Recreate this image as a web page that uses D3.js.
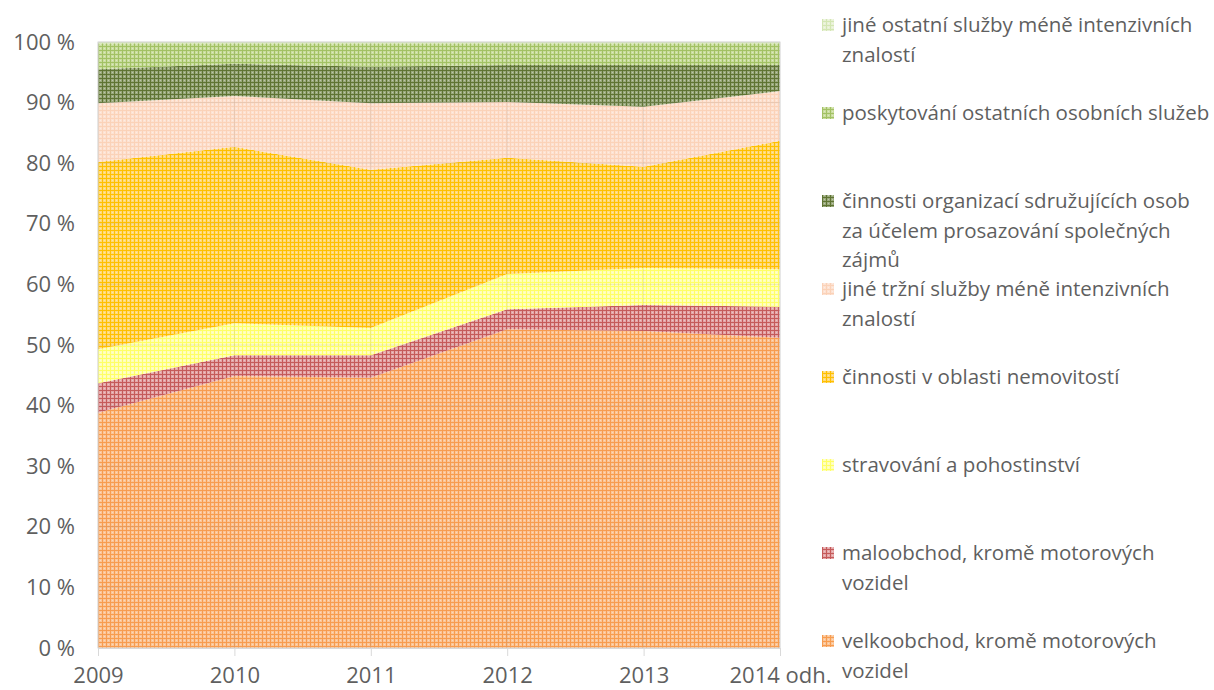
<!DOCTYPE html>
<html lang="cs">
  <head>
    <meta charset="utf-8" />
    <title>Struktura služeb</title>
    <script src="https://d3js.org/d3.v7.min.js" charset="utf-8"></script>
    <style>
      body { margin: 0; background: #fff; }
      text { font-family: "Open Sans", "Noto Sans", sans-serif; fill: #5f5f5f; }
    </style>
  </head>
  <body>
    <div id="svg-container"></div>
    <script>
      // data
      const years = ["2009", "2010", "2011", "2012", "2013", "2014 odh."];
      const velkoobchod = [38.8, 44.9, 44.6, 52.6, 52.3, 51.2];
      const maloobchod = [4.9, 3.4, 3.7, 3.3, 4.3, 5.1];
      const stravovani = [5.6, 5.3, 4.5, 5.8, 6.1, 6.2];
      const nemovitosti = [30.9, 29.1, 26.1, 19.2, 16.7, 21.2];
      const jineTrzni = [9.7, 8.4, 11.0, 9.2, 9.9, 8.2];
      const organizace = [5.6, 5.3, 6.0, 6.1, 6.9, 4.3];
      const poskytovani = [4.3, 3.4, 3.9, 3.6, 3.6, 3.6];
      const jineOstatni = [0.2, 0.2, 0.2, 0.2, 0.2, 0.2];
      const yTicks = [0, 10, 20, 30, 40, 50, 60, 70, 80, 90, 100];

      // series from bottom to top
      const series = [
        { key: "velko", name: "velkoobchod, kromě motorových vozidel", values: velkoobchod, base: "#fbc597", line: "#f79c4f" },
        { key: "malo", name: "maloobchod, kromě motorových vozidel", values: maloobchod, base: "#e4a6a8", line: "#c55a5a" },
        { key: "strav", name: "stravování a pohostinství", values: stravovani, base: "#ffffb8", line: "#ffff66" },
        { key: "nemov", name: "činnosti v oblasti nemovitostí", values: nemovitosti, base: "#ffd978", line: "#ffc000" },
        { key: "trzni", name: "jiné tržní služby méně intenzivních znalostí", values: jineTrzni, base: "#fde2d2", line: "#fbd2b8" },
        { key: "org", name: "činnosti organizací sdružujících osob za účelem prosazování společných zájmů", values: organizace, base: "#9aa97c", line: "#5f7433" },
        { key: "posk", name: "poskytování ostatních osobních služeb", values: poskytovani, base: "#cadd9f", line: "#a2c164" },
        { key: "ost", name: "jiné ostatní služby méně intenzivních znalostí", values: jineOstatni, base: "#e8f1d6", line: "#d3e6b3" }
      ];
      const legendLines = {
        ost: ["jiné ostatní služby méně intenzivních", "znalostí"],
        posk: ["poskytování ostatních osobních služeb"],
        org: ["činnosti organizací sdružujících osob", "za účelem prosazování společných", "zájmů"],
        trzni: ["jiné tržní služby méně intenzivních", "znalostí"],
        nemov: ["činnosti v oblasti nemovitostí"],
        strav: ["stravování a pohostinství"],
        malo: ["maloobchod, kromě motorových", "vozidel"],
        velko: ["velkoobchod, kromě motorových", "vozidel"]
      };

      const table = years.map((y, i) => {
        const row = { year: y };
        series.forEach((s) => (row[s.key] = s.values[i]));
        return row;
      });

      const W = 1214, H = 690;
      const margin = { top: 42, left: 98, right: 434, bottom: 42 };
      const width = W - margin.left - margin.right;
      const height = H - margin.top - margin.bottom;

      const svg = d3.select("#svg-container").append("svg")
        .attr("width", W).attr("height", H);

      // patterns
      const defs = svg.append("defs");
      series.forEach((s) => {
        const p = defs.append("pattern")
          .attr("id", "pat-" + s.key)
          .attr("patternUnits", "userSpaceOnUse")
          .attr("width", 4).attr("height", 4);
        p.append("rect").attr("width", 4).attr("height", 4).attr("fill", s.base);
        p.append("rect").attr("width", 4).attr("height", 1).attr("fill", s.line);
        p.append("rect").attr("width", 1).attr("height", 4).attr("fill", s.line);
        p.append("rect").attr("x", 2).attr("y", 2).attr("width", 1).attr("height", 1).attr("fill", "#fff").attr("opacity", 0.35);
      });

      const g = svg.append("g").attr("transform", `translate(${margin.left},${margin.top})`);

      const x = d3.scalePoint().domain(years).range([0, width]);
      const y = d3.scaleLinear().domain([0, 100]).range([height, 0]);

      const stack = d3.stack().keys(series.map((s) => s.key));
      const stacked = stack(table);

      const area = d3.area()
        .x((d) => x(d.data.year))
        .y0((d) => y(d[0]))
        .y1((d) => y(d[1]));

      g.selectAll("path.area")
        .data(stacked)
        .join("path")
        .attr("class", "area")
        .attr("d", area)
        .attr("fill", (d) => "url(#pat-" + d.key + ")");

      // faint gridlines over the areas
      g.append("g")
        .selectAll("line.h")
        .data(yTicks.slice(1))
        .join("line")
        .attr("x1", 0).attr("x2", width)
        .attr("y1", (d) => y(d)).attr("y2", (d) => y(d))
        .attr("stroke", "#999").attr("stroke-opacity", 0.2);
      g.append("g")
        .selectAll("line.v")
        .data(years)
        .join("line")
        .attr("x1", (d) => x(d)).attr("x2", (d) => x(d))
        .attr("y1", 0).attr("y2", height)
        .attr("stroke", "#999").attr("stroke-opacity", 0.2);

      // frame
      g.append("rect")
        .attr("width", width).attr("height", height)
        .attr("fill", "none").attr("stroke", "#d9d9d9");

      // x axis
      const xAxis = g.append("g")
        .attr("transform", `translate(0,${height})`)
        .call(d3.axisBottom(x).tickSize(8).tickPadding(11));
      xAxis.select(".domain").attr("stroke", "#d9d9d9");
      xAxis.selectAll(".tick line").attr("stroke", "#d9d9d9");
      xAxis.selectAll("text").style("font-size", "22px").attr("fill", "#5f5f5f");

      // y axis
      const yAxis = g.append("g")
        .call(d3.axisLeft(y).tickValues(yTicks).tickSize(0).tickPadding(23).tickFormat((d) => d + " %"));
      yAxis.select(".domain").remove();
      yAxis.selectAll("text").style("font-size", "22px").attr("fill", "#5f5f5f");

      // legend
      const legend = svg.append("g").attr("transform", "translate(822,25)");
      const order = series.slice().reverse();
      const item = legend.selectAll("g.item")
        .data(order)
        .join("g")
        .attr("class", "item")
        .attr("transform", (d, i) => `translate(0,${i * 88})`);
      item.append("rect")
        .attr("x", 0).attr("y", -6)
        .attr("width", 12).attr("height", 12)
        .attr("fill", (d) => "url(#pat-" + d.key + ")");
      item.append("text")
        .attr("x", 20)
        .style("font-size", "20.5px")
        .selectAll("tspan")
        .data((d) => legendLines[d.key])
        .join("tspan")
        .attr("x", 20)
        .attr("y", (d, i) => i * 29.5)
        .attr("dy", "0.35em")
        .text((d) => d);
    </script>
  </body>
</html>
